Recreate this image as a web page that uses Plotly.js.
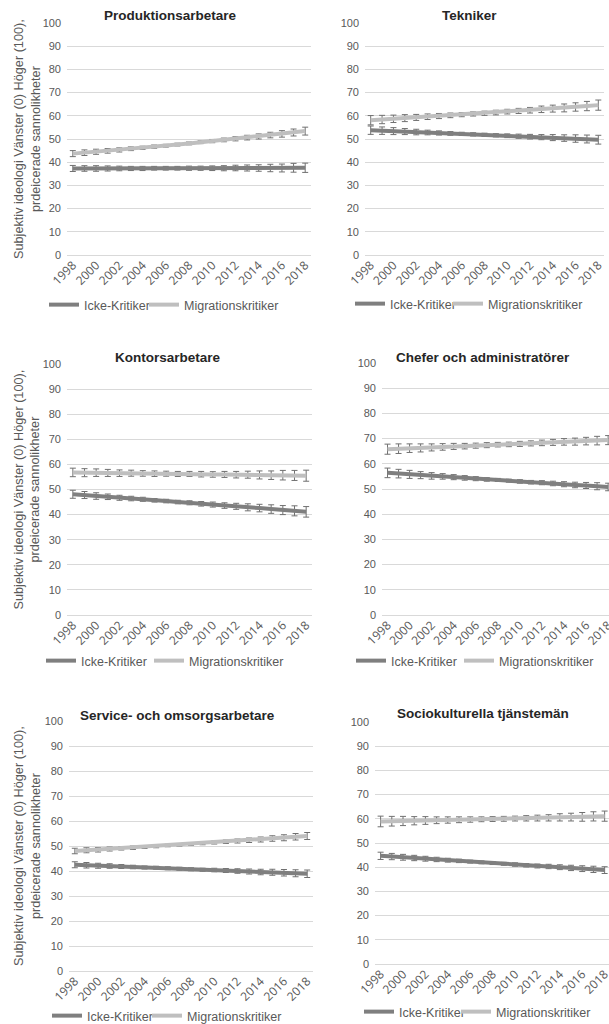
<!DOCTYPE html>
<html>
<head>
<meta charset="utf-8">
<script src="https://cdn.plot.ly/plotly-3.0.1.min.js"></script>
<style>html,body{margin:0;padding:0;background:#fff;}#chart{width:609px;height:1024px;}</style>
</head>
<body>
<div id="chart"></div>
<script>
// ---- data ----
const years = [1998,1999,2000,2001,2002,2003,2004,2005,2006,2007,2008,2009,2010,2011,2012,2013,2014,2015,2016,2017,2018];
const tickYears = [1998,2000,2002,2004,2006,2008,2010,2012,2014,2016,2018];
const tickLabels = ["1998","2000","2002","2004","2006","2008","2010","2012","2014","2016","2018"];
const seriesNames = ["Icke-Kritiker","Migrationskritiker"];
const panelTitles = ["Produktionsarbetare","Tekniker","Kontorsarbetare","Chefer och administratörer","Service- och omsorgsarbetare","Sociokulturella tjänstemän"];
const yTitle = "Subjektiv ideologi Vänster (0) Höger (100),<br>prdeicerade sannolikheter";

// Produktionsarbetare
const prodIcke    = [37.3,37.3,37.3,37.3,37.3,37.3,37.3,37.4,37.4,37.4,37.4,37.4,37.4,37.4,37.5,37.5,37.5,37.5,37.5,37.6,37.6];
const prodIckeErr = [1.3,1.2,1.2,1.1,1.0,0.9,0.9,0.8,0.8,0.8,0.9,0.9,1.0,1.1,1.2,1.3,1.4,1.6,1.7,1.9,2.0];
const prodMigr    = [43.7,44.1,44.5,44.9,45.3,45.8,46.2,46.7,47.1,47.6,48.1,48.6,49.1,49.6,50.1,50.6,51.1,51.7,52.2,52.8,53.4];
const prodMigrErr = [1.3,1.2,1.1,1.0,0.9,0.8,0.7,0.7,0.6,0.6,0.6,0.6,0.7,0.8,0.9,1.0,1.1,1.2,1.4,1.5,1.7];
// Tekniker
const tekIcke     = [53.8,53.6,53.4,53.2,53.0,52.8,52.6,52.4,52.2,52.0,51.8,51.6,51.4,51.2,51.0,50.8,50.6,50.4,50.2,50.0,49.7];
const tekIckeErr  = [1.8,1.6,1.5,1.3,1.2,1.0,0.9,0.8,0.7,0.7,0.7,0.7,0.8,0.9,1.0,1.1,1.3,1.4,1.6,1.7,1.9];
const tekMigr     = [58.1,58.4,58.7,59.0,59.3,59.6,59.9,60.2,60.5,60.8,61.1,61.4,61.8,62.1,62.4,62.8,63.1,63.4,63.8,64.2,64.6];
const tekMigrErr  = [2.0,1.8,1.6,1.5,1.3,1.2,1.1,1.0,0.9,0.9,0.9,1.0,1.0,1.1,1.2,1.4,1.5,1.7,1.8,2.0,2.2];
// Kontorsarbetare
const konIcke     = [48.1,47.8,47.4,47.1,46.7,46.4,46.1,45.7,45.4,45.0,44.7,44.3,44.0,43.6,43.3,42.9,42.6,42.2,41.8,41.5,41.1];
const konIckeErr  = [1.6,1.4,1.3,1.1,1.0,0.9,0.8,0.7,0.7,0.7,0.8,0.9,1.0,1.1,1.2,1.4,1.5,1.7,1.8,2.0,2.1];
const konMigr     = [56.8,56.7,56.7,56.6,56.5,56.5,56.4,56.3,56.3,56.2,56.2,56.1,56.0,56.0,55.9,55.9,55.8,55.7,55.7,55.6,55.5];
const konMigrErr  = [1.7,1.6,1.5,1.4,1.3,1.2,1.1,1.1,1.0,1.0,1.0,1.1,1.1,1.2,1.3,1.4,1.6,1.7,1.9,2.0,2.2];
// Chefer och administratörer
const chefIcke    = [56.4,56.1,55.8,55.5,55.2,55.0,54.7,54.4,54.1,53.8,53.6,53.3,53.0,52.7,52.5,52.2,51.9,51.6,51.4,51.1,50.8];
const chefIckeErr = [1.9,1.7,1.6,1.4,1.3,1.1,1.0,0.9,0.8,0.7,0.6,0.6,0.7,0.7,0.8,0.9,1.0,1.1,1.2,1.4,1.5];
const chefMigr    = [65.8,66.0,66.2,66.3,66.5,66.7,66.9,67.0,67.2,67.4,67.6,67.7,67.9,68.1,68.3,68.5,68.7,68.8,69.0,69.2,69.4];
const chefMigrErr = [2.0,1.9,1.7,1.6,1.4,1.3,1.2,1.1,1.0,1.0,0.9,0.9,1.0,1.0,1.1,1.2,1.3,1.4,1.5,1.7,1.8];
// Service- och omsorgsarbetare
const servIcke    = [42.5,42.3,42.1,42.0,41.8,41.6,41.4,41.3,41.1,40.9,40.7,40.5,40.4,40.2,40.0,39.8,39.6,39.5,39.3,39.1,38.9];
const servIckeErr = [1.2,1.1,1.0,0.9,0.8,0.7,0.6,0.6,0.6,0.6,0.6,0.6,0.7,0.8,0.9,1.0,1.1,1.2,1.3,1.4,1.5];
const servMigr    = [48.0,48.3,48.5,48.8,49.1,49.3,49.6,49.9,50.2,50.5,50.8,51.1,51.4,51.7,52.0,52.3,52.6,53.0,53.3,53.7,54.0];
const servMigrErr = [1.1,1.0,0.9,0.8,0.7,0.7,0.6,0.6,0.5,0.5,0.5,0.6,0.6,0.7,0.8,0.9,1.0,1.1,1.2,1.3,1.4];
// Sociokulturella tjänstemän
const socIcke     = [44.7,44.4,44.1,43.8,43.5,43.2,42.9,42.6,42.3,42.0,41.7,41.4,41.1,40.8,40.5,40.3,40.0,39.7,39.4,39.1,38.8];
const socIckeErr  = [1.5,1.3,1.2,1.1,1.0,0.9,0.8,0.7,0.6,0.6,0.6,0.6,0.7,0.7,0.8,0.9,1.0,1.1,1.2,1.3,1.4];
const socMigr     = [58.9,59.0,59.1,59.2,59.3,59.4,59.5,59.6,59.7,59.8,59.9,60.0,60.1,60.2,60.3,60.4,60.6,60.7,60.8,61.0,61.1];
const socMigrErr  = [2.2,2.0,1.9,1.7,1.6,1.4,1.3,1.2,1.1,1.0,1.0,1.0,1.0,1.1,1.2,1.3,1.5,1.6,1.8,1.9,2.1];

const panelData = [
  [prodIcke, prodIckeErr, prodMigr, prodMigrErr],
  [tekIcke, tekIckeErr, tekMigr, tekMigrErr],
  [konIcke, konIckeErr, konMigr, konMigrErr],
  [chefIcke, chefIckeErr, chefMigr, chefMigrErr],
  [servIcke, servIckeErr, servMigr, servMigrErr],
  [socIcke, socIckeErr, socMigr, socMigrErr]
];

// ---- layout geometry (pixels) ----
const W = 609, H = 1024;
// leg: [text start of item 1, text start of item 2, vertical centre]
const panels = [
  {x0:67,  x1:311, y0:23,  y1:255, xr:[1997.5,2018.5],  title:[170,15],  leg:[83,183,305],  ytitle:27},
  {x0:365, x1:604, y0:23,  y1:255, xr:[1997.5,2018.5],  title:[470,15],  leg:[389,487,304]},
  {x0:67,  x1:312, y0:364, y1:615, xr:[1997.5,2018.5],  title:[168,357], leg:[80,188,661],  ytitle:27},
  {x0:382, x1:609, y0:363, y1:615, xr:[1997.5,2018.08], title:[483,357], leg:[390,498,661]},
  {x0:69,  x1:313, y0:721, y1:971, xr:[1997.5,2018.5],  title:[178,715], leg:[86,186,1016], ytitle:27},
  {x0:375, x1:609, y0:722, y1:964, xr:[1997.5,2018.39], title:[483,713], leg:[398,495,1012]}
];

const FONT = "Liberation Sans, Arial, sans-serif";
const TICKFONT = "Open Sans";
const colIcke = "#7f7f7f", colMigr = "#bfbfbf", colErr = "#707070";
const GREY = "#595959";

const traces = [];
const layout = {
  width: W, height: H,
  margin: {l:0, r:0, t:0, b:0, autoexpand: false},
  paper_bgcolor: "#fff", plot_bgcolor: "#fff",
  font: {family: FONT, color: GREY, size: 11},
  showlegend: true,
  annotations: []
};

let legendCount = 0;
panels.forEach((p, i) => {
  const n = i === 0 ? "" : String(i + 1);
  const xa = "x" + n, ya = "y" + n;
  const d = panelData[i];
  const colors = [colIcke, colMigr];
  [0, 1].forEach(s => {
    legendCount += 1;
    const legName = legendCount === 1 ? "legend" : "legend" + legendCount;
    traces.push({
      type: "scatter", mode: "lines",
      x: years, y: d[s * 2],
      name: seriesNames[s],
      xaxis: xa, yaxis: ya,
      legend: legName,
      line: {color: colors[s], width: 4},
      error_y: {type: "data", array: d[s * 2 + 1], visible: true, color: colErr, thickness: 1, width: 3}
    });
    layout[legName] = {
      orientation: "h", x: (p.leg[s] - 39) / W, y: 1 - p.leg[2] / H,
      xanchor: "left", yanchor: "middle",
      bgcolor: "rgba(0,0,0,0)", borderwidth: 0,
      font: {size: 12.5, color: GREY, family: FONT},
      itemwidth: 30
    };
  });
  layout["xaxis" + n] = {
    domain: [p.x0 / W, p.x1 / W], anchor: ya,
    range: p.xr, tickvals: tickYears, ticktext: tickLabels,
    showticklabels: true, tickangle: -45, ticklabeloverflow: "allow",
    tickfont: {family: TICKFONT, size: 12, color: GREY},
    showgrid: false, zeroline: false, showline: false
  };
  layout["yaxis" + n] = {
    domain: [1 - p.y1 / H, 1 - p.y0 / H], anchor: xa,
    range: [0, 100], dtick: 10, tick0: 0,
    showgrid: true, gridcolor: "#d9d9d9", gridwidth: 1,
    zeroline: true, zerolinecolor: "#d9d9d9", zerolinewidth: 1,
    showline: false, ticklabelstandoff: 5,
    tickfont: {size: 11, color: GREY}
  };
  layout.annotations.push({
    xref: "paper", yref: "paper", x: p.title[0] / W, y: 1 - p.title[1] / H,
    xanchor: "center", yanchor: "middle", showarrow: false,
    text: "<b>" + panelTitles[i] + "</b>",
    font: {size: 13.5, color: "#262626", family: FONT}
  });
  if (p.ytitle) {
    layout.annotations.push({
      xref: "paper", yref: "paper", x: p.ytitle / W, y: 1 - ((p.y0 + p.y1) / 2) / H,
      xanchor: "center", yanchor: "middle", showarrow: false, textangle: -90,
      text: yTitle, font: {size: 12.7, color: GREY, family: FONT}
    });
  }
});

Plotly.newPlot("chart", traces, layout, {displayModeBar: false, staticPlot: true});
</script>
</body>
</html>
